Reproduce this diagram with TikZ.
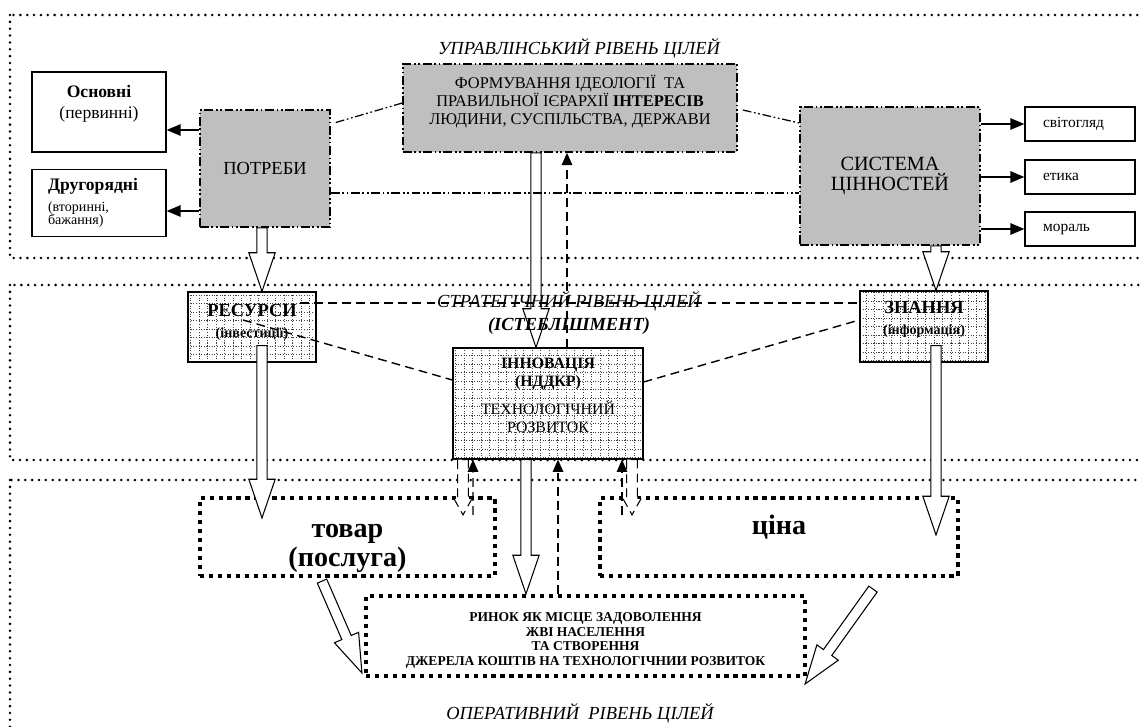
\documentclass[tikz,border=0pt]{standalone}
\usepackage{fontspec}
\setmainfont{Liberation Serif}
\usetikzlibrary{arrows.meta,calc,positioning}

\newcommand{\fatw}{2.9}
\newcommand{\fath}{7.5}
\newcommand{\fatlen}{22}
\newcommand{\fatarrow}[3][]{%
  \draw[fill=white, line width=0.6pt, #1] let \p1=(#2), \p2=(#3),
    \n1={atan2(\y2-\y1,\x2-\x1)}, \n2={veclen(\x2-\x1,\y2-\y1)}, \n3={\n2-\fatlen pt}
    in [shift={(\p1)}, rotate=\n1]
    (0pt,\fatw pt) -- (\n3,\fatw pt) -- (\n3,\fath pt) -- (\n2,0pt)
    -- (\n3,-\fath pt) -- (\n3,-\fatw pt) -- (0pt,-\fatw pt) -- cycle;}

\begin{document}
\begin{tikzpicture}[x=0.02cm, y=-0.02cm]
	\tikzset{level/.style = {line width=1.6pt, dash pattern=on 0pt off 3.9pt, line cap=round}}
	\tikzset{lvltext/.style = {font=\fontsize{10.5}{13}\selectfont\itshape, align=center}}
	\tikzset{plainbox/.style = {draw, line width=0.7pt}}
	\tikzset{goalbox/.style = {draw, fill=gray!50, line width=0.9pt, align=center,
		dash pattern=on 5pt off 1.5pt on 1pt off 1.5pt on 1pt off 1.5pt}}
	\tikzset{gridbox/.style = {draw, line width=0.7pt, fill=white, align=center,
		path picture={\draw[black!75, line width=0.3pt, dash pattern=on 0.6pt off 0.9pt]
		(path picture bounding box.south west) grid[step=0.17cm] (path picture bounding box.north east);}}}
	\tikzset{marketbox/.style = {draw, line width=2.4pt, dash pattern=on 2.4pt off 2.7pt, align=center}}
	\tikzset{dashdotline/.style = {line width=0.7pt, dash pattern=on 5pt off 1.5pt on 1pt off 1.5pt on 1pt off 1.5pt}}
	\tikzset{dashline/.style = {line width=0.8pt, dash pattern=on 5pt off 3pt}}
	\tikzset{arr/.style = {line width=0.9pt, -{Triangle[length=8pt,width=6.5pt]}}}
	\tikzset{uparr/.style = {dashline, -{Triangle[length=7pt,width=6pt]}}}

	\useasboundingbox (0,0) rectangle (1140,727);
	\clip (0,0) rectangle (1140,727);

	\draw[level] (10,15) rectangle (1170,258);
	\draw[level] (10,285) rectangle (1170,460);
	\draw[level] (10,480) rectangle (1170,770);

	\node[plainbox, minimum width=2.68cm, minimum height=1.6cm, align=center, text depth=11.5pt,
		font=\fontsize{10}{12.5}\selectfont] (osnovni) at (99,112) {\textbf{Основні}\\(первинні)};
	\node[plainbox, minimum width=2.68cm, minimum height=1.34cm, align=left, text width=2.04cm,
		font=\fontsize{8}{7.5}\selectfont] (druhoriadni) at (99,203)
		{\fontsize{10}{12}\selectfont\textbf{Другорядні}\\[3pt]\fontsize{8}{7.5}\selectfont(вторинні,\\бажання)};
	\node[goalbox, minimum width=2.6cm, minimum height=2.34cm, font=\fontsize{10.5}{12}\selectfont] (potreby) at (265,168.5) {ПОТРЕБИ};
	\node[goalbox, minimum width=6.68cm, minimum height=1.76cm, text depth=9.3pt, font=\fontsize{9.3}{10}\selectfont] (formuvannia) at (570,108)
		{ФОРМУВАННЯ ІДЕОЛОГІЇ \ ТА\\ПРАВИЛЬНОЇ ІЄРАРХІЇ \textbf{ІНТЕРЕСІВ}\\ЛЮДИНИ, СУСПІЛЬСТВА, ДЕРЖАВИ};
	\node[goalbox, minimum width=3.6cm, minimum height=2.76cm, font=\fontsize{11.5}{11.5}\selectfont] (systema) at (890,176) {СИСТЕМА\\ЦІННОСТЕЙ};
	\node[plainbox, minimum width=2.2cm, minimum height=0.68cm, text width=1.48cm, inner xsep=0.36cm,
		font=\fontsize{8.8}{10}\selectfont] (svitohliad) at (1080,124) {світогляд};
	\node[plainbox, minimum width=2.2cm, minimum height=0.68cm, text width=1.48cm, inner xsep=0.36cm,
		font=\fontsize{8.8}{10}\selectfont] (etyka) at (1080,177) {етика};
	\node[plainbox, minimum width=2.2cm, minimum height=0.68cm, text width=1.48cm, inner xsep=0.36cm,
		font=\fontsize{8.8}{10}\selectfont] (moral) at (1080,229) {мораль};

	\node[gridbox, minimum width=2.56cm, minimum height=1.4cm, text depth=7pt, font=\fontsize{10.5}{12}\selectfont\bfseries] (resursy) at (252,327)
		{РЕСУРСИ\\\fontsize{8}{10}\selectfont(інвестиції)};
	\node[gridbox, minimum width=3.8cm, minimum height=2.22cm, text depth=9.3pt, font=\fontsize{9}{10}\selectfont] (innovatsiia) at (548,403.5)
		{\textbf{ІННОВАЦІЯ}\\\textbf{(НДДКР)}\\[6pt]ТЕХНОЛОГІЧНИЙ\\РОЗВИТОК};
	\node[gridbox, minimum width=2.56cm, minimum height=1.42cm, text depth=9.3pt, font=\fontsize{10.5}{12}\selectfont\bfseries] (znannia) at (924,326.5)
		{ЗНАННЯ\\\fontsize{8}{10}\selectfont(інформація)};

	\node[marketbox, minimum width=5.9cm, minimum height=1.56cm, text height=34pt, text depth=0pt, font=\fontsize{16}{17}\selectfont\bfseries] (tovar) at (347.5,537)
		{товар\\(послуга)};
	\node[marketbox, minimum width=7.16cm, minimum height=1.56cm, text depth=0.5cm, font=\fontsize{16}{17}\selectfont\bfseries] (tsina) at (779,537) {ціна};
	\node[marketbox, minimum width=8.78cm, minimum height=1.6cm, text height=35pt, font=\fontsize{7.7}{8.3}\selectfont\bfseries] (rynok) at (585.5,636)
		{РИНОК ЯК МІСЦЕ ЗАДОВОЛЕННЯ\\ЖВІ НАСЕЛЕННЯ\\ТА СТВОРЕННЯ\\ДЖЕРЕЛА КОШТІВ НА ТЕХНОЛОГІЧНИИ РОЗВИТОК};

	\fatarrow{$(potreby.south)+(-3,0)$}{$(resursy.north)+(10,0)$}
	\fatarrow{$(formuvannia.south)+(-34,0)$}{$(innovatsiia.north)+(-12,0)$}
	\fatarrow{$(systema.south)+(46,0)$}{$(znannia.north)+(12,0)$}
	\fatarrow{$(resursy.south)+(10,-17)$}{$(tovar.north)+(-85.5,22)$}
	\fatarrow{$(znannia.south)+(12,-17)$}{$(tsina.north)+(157,39)$}
	\fatarrow{$(innovatsiia.south)+(-22,0)$}{$(rynok.north)+(-59.5,0)$}
	\fatarrow{$(tovar.south)+(-25.5,3)$}{$(rynok.west)+(-2,37)$}
	\fatarrow{$(tsina.south)+(94,11)$}{$(rynok.east)+(-2,48)$}
	\begin{scope}
		\renewcommand{\fatw}{3.1}\renewcommand{\fath}{5}\renewcommand{\fatlen}{9}
		\fatarrow[dashline, line width=0.6pt]{$(innovatsiia.south)+(-85,0)$}{$(tovar.north)+(115.5,19)$}
		\fatarrow[dashline, line width=0.6pt]{$(innovatsiia.south)+(84,0)$}{$(tsina.north)+(-147,19)$}
	\end{scope}

	\draw[uparr] ($(innovatsiia.north)+(19,0)$) -- ($(formuvannia.south)+(-3,0)$);
	\draw[uparr] ($(rynok.north)+(-27.5,0)$) -- ($(innovatsiia.south)+(10,0)$);
	\draw[uparr] ($(tovar.north)+(125.5,19)$) -- ($(innovatsiia.south)+(-75,0)$);
	\draw[uparr] ($(tsina.north)+(-157,19)$) -- ($(innovatsiia.south)+(74,0)$);

	\draw[arr] ($(potreby.west)+(0,-38.5)$) coordinate (p1) -- (osnovni.east |- p1);
	\draw[arr] ($(potreby.west)+(0,42.5)$) coordinate (p2) -- (druhoriadni.east |- p2);
	\draw[arr] (systema.east |- svitohliad) -- (svitohliad);
	\draw[arr] (systema.east |- etyka) -- (etyka);
	\draw[arr] (systema.east |- moral) -- (moral);

	\draw[dashdotline] ($(potreby.east)+(5,-46)$) -- ($(formuvannia.west)+(0,-5)$);
	\draw[dashdotline] ($(potreby.east)+(0,24.5)$) coordinate (p3) -- (systema.west |- p3);
	\draw[dashdotline] ($(formuvannia.east)+(5,2)$) -- ($(systema.west)+(0,-53)$);

	\node[lvltext] (upravlinskyi) at (579,48) {УПРАВЛІНСЬКИЙ РІВЕНЬ ЦІЛЕЙ};
	\node[lvltext] (stratehichnyi) at (569,313) {СТРАТЕГІЧНИЙ РІВЕНЬ ЦІЛЕЙ\\\textbf{(ІСТЕБЛІШМЕНТ)}};
	\node[lvltext] (operatyvnyi) at (580,713) {ОПЕРАТИВНИЙ~~РІВЕНЬ ЦІЛЕЙ};

	\draw[dashline] ($(resursy.center)+(48,-24)$) coordinate (r1) -- (znannia.west |- r1);
	\draw[dashline] ($(resursy.center)+(-9,-7)$) -- ($(innovatsiia.west)+(0,-23.5)$);
	\draw[dashline] ($(innovatsiia.east)+(0,-21.5)$) -- ($(znannia.west)+(0,-6.5)$);
\end{tikzpicture}
\end{document}
